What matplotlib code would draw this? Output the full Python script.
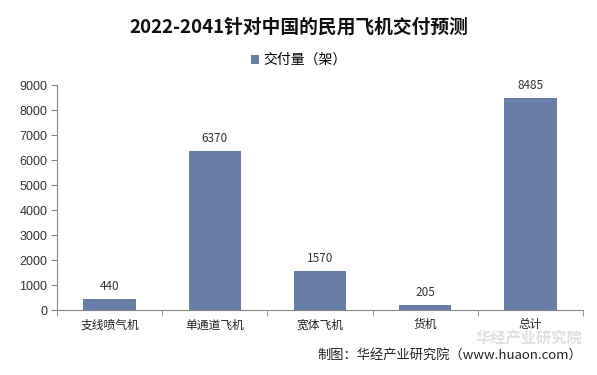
import matplotlib.pyplot as plt
import numpy as np

plt.rcParams['font.family'] = ['Noto Sans CJK SC', 'DejaVu Sans']

# data
categories = ['支线喷气机', '单通道飞机', '宽体飞机', '货机', '总计']
values = [440, 6370, 1570, 205, 8485]
yticks = [0, 1000, 2000, 3000, 4000, 5000, 6000, 7000, 8000, 9000]

fig = plt.figure(figsize=(5.97, 3.75), dpi=100)
ax = fig.add_axes([0.0955, 0.1733, 0.881, 0.6])

x = np.arange(len(categories))
bars = ax.bar(x, values, width=0.5, color='#687ea6', label='交付量（架）')
for xi, v in zip(x, values):
    ax.text(xi, v + 250, str(v), ha='center', va='bottom', fontsize=8.5, color='#333333')

ax.set_xlim(-0.5, len(categories) - 0.5)
ax.set_ylim(0, 9000)
ax.set_yticks(yticks)
ax.set_yticklabels([str(t) for t in yticks], fontsize=9, color='#333333', family='Liberation Sans')
ax.set_xticks(x)
ax.set_xticklabels(categories, fontsize=8.5, color='#222222')
ax.set_xticks(np.arange(-0.5, len(categories)), minor=True)
ax.tick_params(axis='x', which='major', length=0, pad=6)
ax.tick_params(axis='x', which='minor', length=4, color='#888888', direction='out')
ax.tick_params(axis='y', length=4, color='#888888', direction='out', pad=3)
for s in ['top', 'right']:
    ax.spines[s].set_visible(False)
for s in ['left', 'bottom']:
    ax.spines[s].set_color('#888888')

fig.text(0.5, 0.928, '2022-2041针对中国的民用飞机交付预测', ha='center', va='center',
         fontsize=13.5, fontweight='bold', color='#111111')
fig.legend(handles=[bars], loc='center', bbox_to_anchor=(0.5, 0.84), frameon=False,
           fontsize=10, handlelength=0.6, handleheight=0.6, handletextpad=0.3)

# watermark
fig.text(0.975, 0.098, '华经产业研究院', ha='right', va='center', fontsize=11,
         fontweight='bold', color='#dddddd', alpha=0.9)
fig.text(0.975, 0.052, '制图：华经产业研究院（www.huaon.com）', ha='right', va='center',
         fontsize=9.5, color='#222222')

fig.savefig('out.png')
